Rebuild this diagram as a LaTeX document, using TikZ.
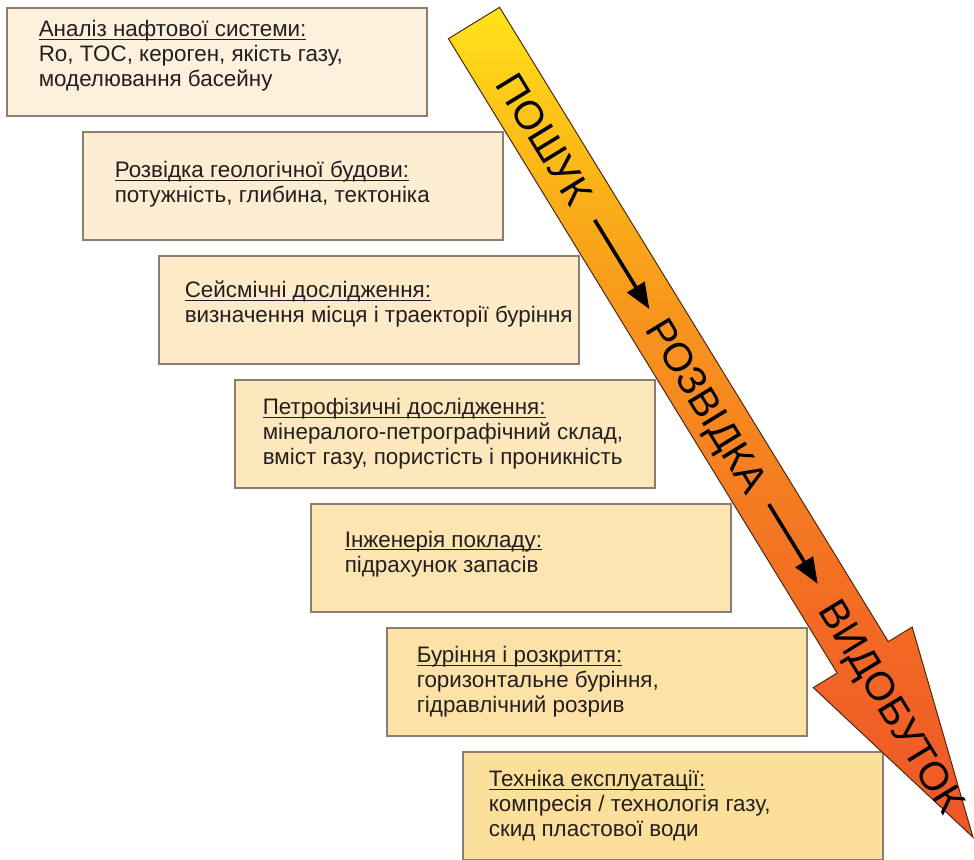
\documentclass[tikz,border=0pt]{standalone}
\usepackage{fontspec}
\setmainfont{Liberation Sans}
\usetikzlibrary{positioning, arrows.meta}
\definecolor{BoxLight}{HTML}{FDF1DE}
\definecolor{BoxDeep}{HTML}{FDDF9C}
\definecolor{BoxLine}{HTML}{8C7D70}
\definecolor{tInk}{HTML}{231F20}
\definecolor{aTop}{HTML}{FFE41A}
\definecolor{aWarm}{HTML}{FBB817}
\definecolor{aMid}{HTML}{F7941D}
\definecolor{aHot}{HTML}{F26A24}
\definecolor{aBot}{HTML}{EF5628}
\definecolor{aLine}{HTML}{4A2A10}
\pgfdeclareverticalshading{arrowfade}{100bp}{color(0bp)=(aBot); color(25bp)=(aBot);
  color(38bp)=(aHot); color(56bp)=(aMid); color(66bp)=(aWarm); color(75bp)=(aTop); color(100bp)=(aTop)}
\tikzset{
  stagebox/.style={draw=BoxLine, line width=0.6pt, minimum width=210pt, minimum height=54pt},
  stagetext/.style={anchor=west, text=tInk, inner sep=0pt, align=left,
    font=\fontsize{11.2}{12.5}\selectfont},
  bigarrow/.style={draw=aLine, line width=0.5pt, shading=arrowfade},
  arrowword/.style={font=\fontsize{20}{24}\selectfont, text=black, inner sep=0pt,
    text height=14.5pt, text depth=0pt, rotate=-58.5},
  wordarrow/.style={-{Triangle[length=13pt,width=10pt]}, line width=1.8pt, black},
}
\newsavebox{\titlebox}
\newcommand{\stagetitle}[1]{\sbox{\titlebox}{#1}\rlap{\rule[-1.6pt]{\wd\titlebox}{0.5pt}}\usebox{\titlebox}\\}
\begin{document}
\begin{tikzpicture}[x=0.5pt, y=-0.5pt]
  \useasboundingbox (0,0) rectangle (974,860);
  % stages
  \node[stagebox, fill=BoxDeep!0!BoxLight] (s1) at (217,62) {};
  \node[stagebox, fill=BoxDeep!17!BoxLight] (s2) at (293,186) {};
  \node[stagebox, fill=BoxDeep!33!BoxLight] (s3) at (369,310) {};
  \node[stagebox, fill=BoxDeep!50!BoxLight] (s4) at (445,434) {};
  \node[stagebox, fill=BoxDeep!67!BoxLight] (s5) at (521,558) {};
  \node[stagebox, fill=BoxDeep!83!BoxLight] (s6) at (597,682) {};
  \node[stagebox, fill=BoxDeep!100!BoxLight] (s7) at (673,806) {};
  \node[stagetext] (t1) at ([xshift=16pt, yshift=3pt]s1.west)
    {\stagetitle{Аналіз нафтової системи:}Ro, TOC, кероген, якість газу,\\моделювання басейну};
  \node[stagetext] (t2) at ([xshift=16pt, yshift=1pt]s2.west)
    {\stagetitle{Розвідка геологічної будови:}потужність, глибина, тектоніка};
  \node[stagetext] (t3) at ([xshift=13pt, yshift=3pt]s3.west)
    {\stagetitle{Сейсмічні дослідження:}визначення місця і траекторії буріння};
  \node[stagetext] (t4) at ([xshift=14pt, yshift=0pt]s4.west)
    {\stagetitle{Петрофізичні дослідження:}мінералого-петрографічний склад,\\вміст газу, пористість і проникність};
  \node[stagetext] (t5) at ([xshift=17pt, yshift=2pt]s5.west)
    {\stagetitle{Інженерія покладу:}підрахунок запасів};
  \node[stagetext] (t6) at ([xshift=15pt, yshift=0pt]s6.west)
    {\stagetitle{Буріння і розкриття:}горизонтальне буріння,\\гідравлічний розрив};
  \node[stagetext] (t7) at ([xshift=13pt, yshift=0pt]s7.west)
    {\stagetitle{Техніка експлуатації:}компресія / технологія газу,\\скид пластової води};
  % big arrow, local axis along the arrow
  \begin{scope}[shift={(474,23)}, rotate=-58.5]
    \coordinate (a1) at (0,-30);
    \coordinate (a2) at (744,-30);
    \coordinate (a3) at (744,-58);
    \coordinate (tip) at (955,0);
    \coordinate (a4) at (744,58);
    \coordinate (a5) at (744,30);
    \coordinate (a6) at (0,30);
    \coordinate (c1) at (136,0);
    \coordinate (c2) at (448,0);
    \coordinate (c3) at (801,0);
  \end{scope}
  \draw[bigarrow] (a1) -- (a2) -- (a3) -- (tip) -- (a4) -- (a5) -- (a6) -- cycle;
  \node[arrowword] (w1) at (c1) {ПОШУК};
  \node[arrowword] (w2) at (c2) {РОЗВІДКА};
  \node[arrowword] (w3) at (c3) {ВИДОБУТОК};
  \draw[wordarrow, shorten <=11pt, shorten >=7pt] (w1) -- (w2);
  \draw[wordarrow, shorten <=9pt, shorten >=11pt] (w2) -- (w3);
\end{tikzpicture}
\end{document}
